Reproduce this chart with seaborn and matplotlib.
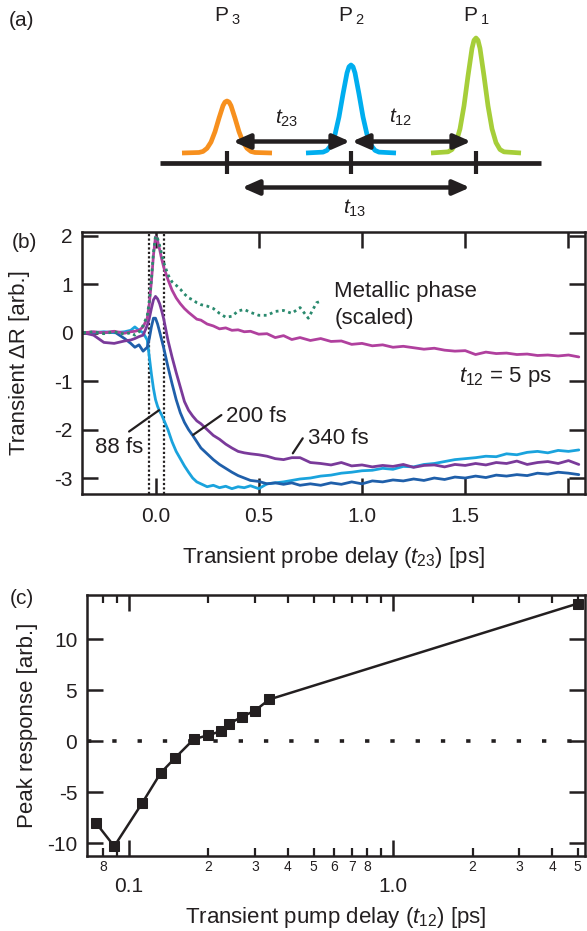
import matplotlib
matplotlib.use("Agg")
import matplotlib.pyplot as plt
import seaborn as sns
import pandas as pd
from matplotlib.ticker import FixedLocator, FixedFormatter

INK = "#231F20"

# ---------------- panel (a): pulse-sequence schematic (panel pixel units) ----------------
pulse_labels = [r"P$\,_{3}$", r"P$\,_{2}$", r"P$\,_{1}$"]
pulse_centers = [227, 351, 476]
pulse_heights = [52, 88, 115]
pulse_colors = ["#F7901E", "#00AEEF", "#A6CE39"]
pulse_offsets = [-45, -28, -24, -20, -16, -12, -8, -4, -2, 0, 2, 4, 8, 12, 16, 20, 24, 28, 45]
pulse_profile = [0, 0.01, 0.03, 0.09, 0.21, 0.41, 0.67, 0.91, 0.98, 1.0, 0.98, 0.91, 0.67, 0.41,
                 0.21, 0.09, 0.03, 0.01, 0]
delay_labels = [r"$\mathit{t}_{\mathit{23}}$", r"$\mathit{t}_{\mathit{12}}$", r"$\mathit{t}_{\mathit{13}}$"]
delay_start = [233, 352, 242]
delay_end = [350, 471, 470]
delay_row = [141.5, 141.5, 187.5]
delay_label_xy = [(287, 118), (401, 117), (355, 208)]

# ---------------- panel (b): transient reflectivity traces ----------------
probe_t = [-0.35, -0.30, -0.25, -0.20, -0.15, -0.12, -0.10, -0.08, -0.06, -0.04, -0.03, -0.02,
           -0.01, 0.00, 0.01, 0.02, 0.03, 0.04, 0.06, 0.08, 0.10, 0.12, 0.14, 0.16, 0.18, 0.20,
           0.22, 0.25, 0.28, 0.31, 0.34, 0.37, 0.40, 0.43, 0.46, 0.50, 0.54, 0.58, 0.62, 0.66,
           0.70, 0.75, 0.80, 0.85, 0.90, 0.95, 1.00, 1.05, 1.10, 1.15, 1.20, 1.25, 1.30, 1.35,
           1.40, 1.45, 1.50, 1.55, 1.60, 1.65, 1.70, 1.75, 1.80, 1.85, 1.90, 1.95, 2.00, 2.05]

dr_88fs = [0.00, 0.00, 0.02, 0.00, 0.02, 0.05, 0.12, 0.05, 0.00, -0.15, -0.50, -0.85,
           -1.15, -1.38, -1.52, -1.62, -1.70, -1.80, -2.00, -2.25, -2.45, -2.60, -2.75, -2.88,
           -3.00, -3.08, -3.12, -3.18, -3.15, -3.20, -3.17, -3.22, -3.18, -3.20, -3.16, -3.22,
           -3.12, -3.10, -3.08, -3.05, -3.02, -3.00, -2.96, -2.94, -2.90, -2.88, -2.85, -2.84,
           -2.80, -2.82, -2.76, -2.77, -2.72, -2.70, -2.66, -2.62, -2.60, -2.58, -2.55, -2.56,
           -2.50, -2.52, -2.47, -2.45, -2.48, -2.43, -2.45, -2.42]

dr_200fs = [0.00, 0.01, 0.00, 0.02, -0.12, -0.22, -0.30, -0.25, -0.38, -0.30, -0.12, 0.12,
            0.30, 0.30, 0.18, 0.02, -0.15, -0.32, -0.70, -1.05, -1.38, -1.65, -1.85, -2.00,
            -2.12, -2.25, -2.38, -2.50, -2.62, -2.72, -2.80, -2.88, -2.95, -3.00, -3.05, -3.07,
            -3.12, -3.10, -3.13, -3.10, -3.15, -3.12, -3.15, -3.10, -3.13, -3.08, -3.12, -3.06,
            -3.08, -3.04, -3.06, -3.02, -3.05, -3.00, -3.03, -2.98, -3.00, -2.96, -2.99, -2.94,
            -2.96, -2.93, -2.95, -2.90, -2.92, -2.88, -2.90, -2.93]

dr_340fs = [0.00, -0.05, -0.20, -0.22, -0.17, -0.15, -0.12, -0.08, -0.05, 0.15, 0.30, 0.50,
            0.68, 0.75, 0.70, 0.60, 0.45, 0.28, -0.15, -0.50, -0.82, -1.12, -1.42, -1.60,
            -1.72, -1.82, -1.88, -2.00, -2.12, -2.20, -2.30, -2.38, -2.45, -2.48, -2.50, -2.52,
            -2.55, -2.60, -2.62, -2.58, -2.58, -2.68, -2.70, -2.73, -2.68, -2.75, -2.73, -2.77,
            -2.74, -2.76, -2.72, -2.78, -2.74, -2.73, -2.77, -2.72, -2.74, -2.70, -2.73, -2.68,
            -2.70, -2.65, -2.72, -2.68, -2.66, -2.70, -2.64, -2.72]

dr_5ps = [0.00, 0.02, 0.00, 0.03, -0.01, 0.02, 0.03, 0.05, 0.12, 0.30, 0.60, 1.05,
          1.60, 1.98, 1.90, 1.72, 1.52, 1.35, 1.10, 0.88, 0.72, 0.60, 0.50, 0.42,
          0.35, 0.28, 0.26, 0.18, 0.14, 0.08, 0.10, 0.05, 0.06, 0.02, 0.03, -0.03,
          -0.02, -0.10, -0.06, -0.14, -0.10, -0.16, -0.12, -0.18, -0.17, -0.24, -0.22, -0.27,
          -0.25, -0.30, -0.28, -0.31, -0.34, -0.32, -0.36, -0.38, -0.37, -0.45, -0.40, -0.43,
          -0.42, -0.45, -0.44, -0.47, -0.46, -0.48, -0.46, -0.50]

metal_t = [-0.35, -0.30, -0.25, -0.20, -0.15, -0.12, -0.10, -0.08, -0.06, -0.04, -0.03, -0.02,
           -0.01, 0.00, 0.01, 0.02, 0.03, 0.04, 0.06, 0.08, 0.10, 0.12, 0.14, 0.16, 0.18, 0.20,
           0.22, 0.25, 0.28, 0.31, 0.34, 0.37, 0.40, 0.43, 0.46, 0.50, 0.54, 0.58, 0.62, 0.66,
           0.70, 0.74, 0.78, 0.80]
metal_dr = [0.00, 0.02, -0.02, 0.02, -0.03, 0.00, -0.05, 0.02, 0.15, 0.35, 0.65, 1.10,
            1.65, 2.00, 1.95, 1.80, 1.62, 1.45, 1.20, 1.05, 0.98, 0.90, 0.80, 0.72, 0.68, 0.62,
            0.58, 0.55, 0.50, 0.40, 0.32, 0.34, 0.45, 0.48, 0.42, 0.36, 0.36, 0.44, 0.46, 0.40,
            0.52, 0.30, 0.62, 0.65]

trace_names = ["88 fs", "200 fs", "340 fs", "5 ps"]
trace_colors = ["#1AA3DD", "#1F5FAA", "#7A3A9A", "#B0409E"]
window_edges = [-0.03, 0.042]

# ---------------- panel (c): peak response vs pump delay ----------------
pump_delay = [0.075, 0.088, 0.112, 0.132, 0.150, 0.176, 0.200, 0.224, 0.239, 0.268, 0.300, 0.340, 5.0]
peak_resp = [-8.0, -10.3, -6.1, -3.1, -1.6, 0.2, 0.6, 1.0, 1.7, 2.4, 3.0, 4.1, 13.5]

sns.set_theme(style="ticks")
plt.rcParams["font.family"] = ["Liberation Sans", "DejaVu Sans"]
plt.rcParams.update({
    "mathtext.fontset": "custom",
    "mathtext.rm": "Liberation Sans",
    "mathtext.it": "Liberation Sans:italic",
    "mathtext.bf": "Liberation Sans:bold",
    "axes.unicode_minus": False,
    "text.color": INK,
    "axes.labelcolor": INK,
    "xtick.color": INK,
    "ytick.color": INK,
    "axes.edgecolor": INK,
    "axes.linewidth": 1.8,
})

W, H = 587, 931
fig = plt.figure(figsize=(W / 100, H / 100), dpi=100)


def box(l, t, r, b):
    return [l / W, 1 - b / H, (r - l) / W, (b - t) / H]


# ---- (a) ----
ax_a = fig.add_axes([0, 1 - 220 / H, 1, 220 / H])
ax_a.set_xlim(0, W)
ax_a.set_ylim(220, 0)
ax_a.axis("off")
for lab, c, h, col in zip(pulse_labels, pulse_centers, pulse_heights, pulse_colors):
    xs = [c + o for o in pulse_offsets]
    ys = [153 - h * p for p in pulse_profile]
    ax_a.plot(xs, ys, color=col, lw=3.4, solid_joinstyle="round", solid_capstyle="butt")
    ax_a.text(c, 16, lab, ha="center", va="center", fontsize=15)
ax_a.plot([160, 541], [163, 163], color=INK, lw=3.4, solid_capstyle="butt")
for c in pulse_centers:
    ax_a.plot([c, c], [151, 174], color=INK, lw=3.0, solid_capstyle="butt")
for lab, x0, x1, yy, (lx, ly) in zip(delay_labels, delay_start, delay_end, delay_row, delay_label_xy):
    ax_a.annotate("", xy=(x1, yy), xytext=(x0, yy),
                  arrowprops=dict(arrowstyle="<|-|>,head_length=0.5,head_width=0.22",
                                  lw=3.2, color=INK, shrinkA=0, shrinkB=0, mutation_scale=20))
    ax_a.text(lx, ly, lab, ha="center", va="center", fontsize=15)

# ---- (b) ----
ax_b = fig.add_axes(box(82, 232, 585, 494))
rows = []
for name, vals in zip(trace_names, [dr_88fs, dr_200fs, dr_340fs, dr_5ps]):
    for t, v in zip(probe_t, vals):
        rows.append({"t": t, "dR": v, "trace": name})
df_b = pd.DataFrame(rows)
sns.lineplot(data=df_b, x="t", y="dR", hue="trace", hue_order=trace_names,
             palette=dict(zip(trace_names, trace_colors)), estimator=None,
             lw=2.0, legend=False, ax=ax_b)
sns.lineplot(x=metal_t, y=metal_dr, color="#2A8A6E", lw=2.0, linestyle=(0, (1, 1.3)),
             estimator=None, ax=ax_b)
for e in window_edges:
    ax_b.axvline(e, color=INK, lw=1.6, linestyle=(0, (1, 1)), zorder=1)

ax_b.set_xlim(-0.356, 2.08)
ax_b.set_ylim(-3.33, 2.08)
ax_b.set_xticks([0, 0.5, 1.0, 1.5, 2.0])
ax_b.set_xticklabels(["0.0", "0.5", "1.0", "1.5", ""])
ax_b.set_yticks([-3, -2, -1, 0, 1, 2])
ax_b.set_yticklabels(["-3", "-2", "-1", "0", "1", "2"])
ax_b.tick_params(direction="in", length=11.5, width=1.8, top=True, right=True, labelsize=15)
ax_b.tick_params(axis="x", pad=9)
ax_b.tick_params(axis="y", pad=6.5)
ax_b.set_xlabel(r"Transient probe delay ($\mathit{t}_{\mathrm{23}}$) [ps]", fontsize=16)
ax_b.set_ylabel("Transient \u0394R [arb.]", fontsize=16)
ax_b.xaxis.label.set_va("center")
ax_b.yaxis.label.set_va("center")
ax_b.xaxis.set_label_coords(0.5, -63 / 262)
ax_b.yaxis.set_label_coords(-62 / 503, 0.5)

ax_b.text(0.866, 0.85, "Metallic phase", fontsize=16, va="center", ha="left")
ax_b.text(0.866, 0.30, "(scaled)", fontsize=16, va="center", ha="left")
ax_b.text(1.47, -0.91, r"$\mathit{t}_{\mathrm{12}}$ = 5 ps", fontsize=16, va="center", ha="left")
ax_b.plot([-0.128, 0.017], [-2.04, -1.60], color=INK, lw=1.6)
ax_b.text(-0.176, -2.38, "88 fs", fontsize=16, va="center", ha="center")
ax_b.plot([0.182, 0.319], [-2.11, -1.70], color=INK, lw=1.6)
ax_b.text(0.343, -1.72, "200 fs", fontsize=16, va="center", ha="left")
ax_b.plot([0.665, 0.713], [-2.49, -2.18], color=INK, lw=1.6)
ax_b.text(0.737, -2.18, "340 fs", fontsize=16, va="center", ha="left")

# ---- (c) ----
ax_c = fig.add_axes(box(87, 595, 585, 856))
ax_c.axhline(0, color=INK, lw=2.6, linestyle=(0, (1.2, 5.8)), zorder=1)
sns.lineplot(x=pump_delay, y=peak_resp, color=INK, lw=1.8, marker="s", markersize=7,
             markeredgecolor=INK, estimator=None, ax=ax_c)
ax_c.set_xscale("log")
ax_c.set_xlim(0.0694, 5.33)
ax_c.set_ylim(-11.25, 14.34)
ax_c.set_yticks([-10, -5, 0, 5, 10])
ax_c.set_yticklabels(["-10", "-5", "0", "5", "10"])
ax_c.xaxis.set_major_locator(FixedLocator([0.1, 1.0]))
ax_c.xaxis.set_major_formatter(FixedFormatter(["0.1", "1.0"]))
minor_pos = [0.08, 0.09, 0.2, 0.3, 0.4, 0.5, 0.6, 0.7, 0.8, 0.9, 2, 3, 4, 5]
minor_lab = ["8", "", "2", "3", "4", "5", "6", "7", "8", "", "2", "3", "4", "5"]
ax_c.xaxis.set_minor_locator(FixedLocator(minor_pos))
ax_c.xaxis.set_minor_formatter(FixedFormatter(minor_lab))
ax_c.tick_params(which="major", direction="in", length=11.5, width=1.8, top=True, right=True,
                 labelsize=15)
ax_c.tick_params(which="minor", direction="in", length=5.5, width=1.6, top=True, right=True,
                 labelsize=10)
ax_c.tick_params(axis="x", which="major", pad=15)
ax_c.tick_params(axis="x", which="minor", pad=3)
ax_c.tick_params(axis="y", pad=7)
ax_c.set_xlabel(r"Transient pump delay ($\mathit{t}_{\mathrm{12}}$) [ps]", fontsize=16)
ax_c.set_ylabel("Peak response [arb.]", fontsize=16)
ax_c.xaxis.label.set_va("center")
ax_c.yaxis.label.set_va("center")
ax_c.xaxis.set_label_coords(0.5, -61 / 261)
ax_c.yaxis.set_label_coords(-59 / 498, 0.5)

# panel letters
fig.text(22 / W, 1 - 21 / H, "(a)", fontsize=15, ha="center", va="center")
fig.text(24 / W, 1 - 243 / H, "(b)", fontsize=15, ha="center", va="center")
fig.text(22 / W, 1 - 599 / H, "(c)", fontsize=15, ha="center", va="center")

fig.savefig("out.png", dpi=100)
